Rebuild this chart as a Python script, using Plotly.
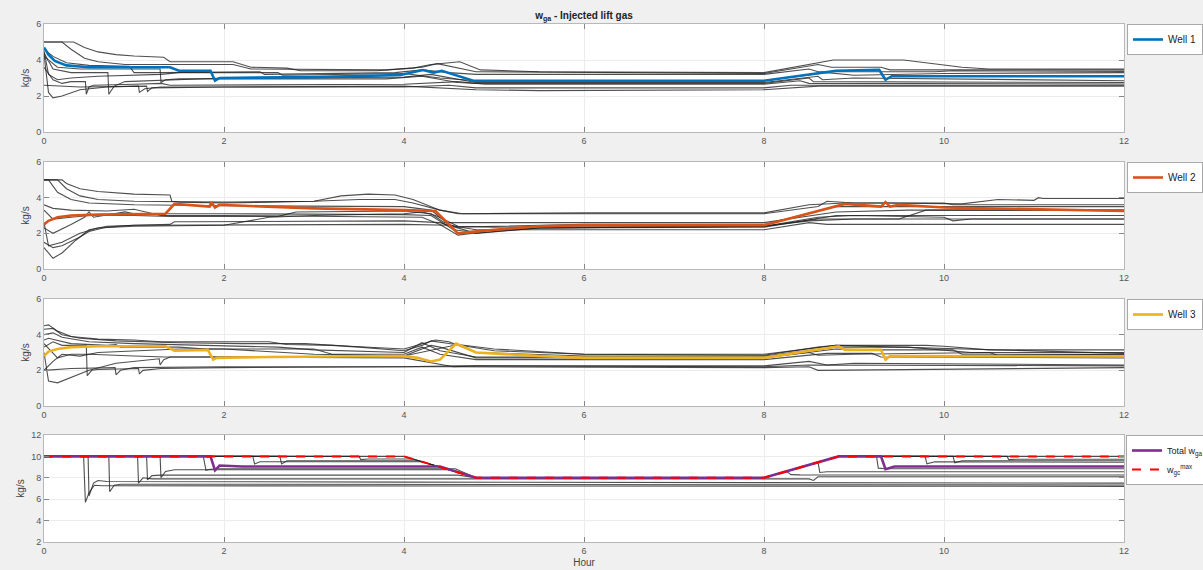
import plotly.graph_objects as go

# ---------------- data (hour, kg/s) knots ----------------
hour_ticks = [0, 2, 4, 6, 8, 10, 12]

well1_main = [(0, 4.7), (0.05, 4.3), (0.12, 3.95), (0.25, 3.7), (0.5, 3.6), (1.4, 3.6), (1.5, 3.4),
              (1.85, 3.4), (1.9, 2.85), (1.95, 3.0), (3.0, 3.05), (3.96, 3.17), (4.21, 3.44), (4.33, 3.3),
              (4.42, 3.4), (4.77, 2.85), (8.0, 2.85), (8.8, 3.4), (9.28, 3.45), (9.35, 2.9), (9.42, 3.1),
              (12, 3.1)]
well1_others = [
    [(0, 5.0), (0.33, 5.0), (0.45, 4.7), (0.6, 4.45), (0.8, 4.3), (1.0, 4.22), (1.33, 4.15), (1.4, 3.9),
     (2.1, 3.9), (2.3, 3.6), (2.7, 3.55), (2.85, 3.4), (3.7, 3.4), (4.1, 3.55), (4.3, 3.75), (4.62, 3.9),
     (4.85, 3.45), (5.5, 3.35), (8, 3.3), (8.77, 4.0), (9.55, 4.0), (10.2, 3.6), (10.5, 3.5), (12, 3.5)],
    [(0, 5.0), (0.2, 5.0), (0.3, 4.6), (0.45, 4.1), (0.6, 3.9), (0.9, 3.75), (2.1, 3.75), (2.3, 3.5),
     (3.8, 3.45), (4.2, 3.6), (4.37, 3.8), (4.8, 3.35), (8, 3.25), (8.6, 3.75), (8.75, 3.6), (9.3, 3.6),
     (9.4, 3.45), (12, 3.45)],
    [(0, 4.6), (0.1, 4.2), (0.25, 3.85), (0.5, 3.7), (0.95, 3.65), (1.0, 3.3), (1.3, 3.3), (2.4, 3.35),
     (2.45, 3.2), (3.2, 3.25), (3.9, 3.3), (4.2, 3.45), (4.5, 3.3), (4.8, 3.2), (8, 3.2), (8.5, 3.5),
     (8.6, 3.35), (9.9, 3.35), (10.1, 3.4), (12, 3.37)],
    [(0, 4.4), (0.1, 3.5), (0.3, 3.3), (0.71, 3.3), (0.72, 2.1), (0.78, 2.55), (0.9, 2.8), (1.4, 2.9),
     (2.0, 3.0), (4.0, 3.05), (4.3, 3.2), (4.8, 2.75), (8, 2.75), (8.6, 3.1), (8.65, 2.9), (9.0, 3.0),
     (12, 2.85)],
    [(0, 3.6), (0.1, 2.9), (0.2, 2.7), (0.3, 2.8), (0.46, 2.8), (0.47, 2.1), (0.5, 2.5), (0.55, 2.6),
     (1.0, 2.65), (1.3, 2.7), (1.4, 2.6), (4.0, 2.65), (4.6, 2.8), (4.9, 2.65), (8, 2.65), (8.4, 2.85),
     (8.5, 2.7), (12, 2.67)],
    [(0, 4.3), (0.05, 2.2), (0.1, 1.9), (0.2, 2.0), (0.4, 2.35), (0.7, 2.5), (1.05, 2.55), (1.06, 2.2),
     (1.12, 2.4), (1.3, 2.5), (4, 2.5), (4.5, 2.6), (4.8, 2.45), (8, 2.45), (8.3, 2.6), (12, 2.6)],
    [(0, 4.5), (0.05, 3.2), (0.15, 2.9), (0.3, 3.0), (0.6, 3.1), (1.3, 3.2), (1.5, 3.3), (2.6, 3.3),
     (2.65, 3.15), (3.5, 3.2), (4.0, 3.25), (4.4, 3.0), (4.8, 2.85), (8, 2.85), (8.7, 3.3), (9.0, 3.15),
     (10.0, 3.25), (12, 3.3)],
    [(0, 4.2), (0.15, 3.6), (0.4, 3.5), (1.29, 3.5), (1.3, 2.75), (1.35, 2.9), (1.5, 2.95), (3.8, 2.95),
     (4.2, 3.1), (4.6, 2.75), (4.8, 2.7), (8, 2.7), (8.5, 3.0), (8.55, 2.8), (12, 2.75)],
    [(0, 2.6), (0.4, 2.5), (1.14, 2.55), (1.15, 2.25), (1.2, 2.45), (2, 2.5), (4, 2.55), (4.8, 2.35),
     (5.5, 2.3), (8, 2.35), (8.6, 2.55), (12, 2.55)],
]

well2_main = [(0, 2.5), (0.05, 2.7), (0.15, 2.9), (0.3, 3.0), (0.6, 3.05), (1.35, 3.1), (1.45, 3.65),
              (1.7, 3.55), (1.84, 3.5), (1.86, 3.75), (1.9, 3.45), (1.95, 3.6), (2.5, 3.5), (3.0, 3.4),
              (4.0, 3.3), (4.35, 3.25), (4.6, 2.0), (5.0, 2.2), (5.5, 2.4), (6, 2.45), (8, 2.45),
              (8.9, 3.65), (9.3, 3.5), (9.35, 3.75), (9.4, 3.5), (9.5, 3.6), (10, 3.45), (12, 3.25)]
well2_others = [
    [(0, 5.0), (0.2, 5.0), (0.25, 4.8), (0.4, 4.5), (0.6, 4.35), (1.0, 4.2), (1.4, 4.15), (1.42, 3.8),
     (1.5, 3.75), (2.0, 3.7), (3.0, 3.8), (3.3, 4.1), (3.6, 4.2), (3.9, 4.15), (4.1, 3.9), (4.4, 3.3),
     (4.65, 3.1), (6, 3.15), (8, 3.15), (8.5, 3.6), (8.9, 3.7), (9.4, 3.7), (10.2, 3.65), (10.6, 3.9),
     (11.0, 3.85), (11.05, 4.0), (11.1, 3.95), (12, 3.95)],
    [(0, 5.0), (0.15, 5.0), (0.25, 4.5), (0.4, 4.1), (0.6, 3.9), (1.0, 3.8), (2.0, 3.75), (3.0, 3.8),
     (3.5, 3.9), (3.9, 3.9), (4.1, 3.7), (4.4, 3.3), (4.6, 3.1), (8, 3.1), (8.6, 3.5), (8.7, 3.8),
     (9.0, 3.7), (10.0, 3.7), (10.1, 3.6), (12, 3.6)],
    [(0, 5.0), (0.05, 5.0), (0.15, 4.3), (0.3, 3.9), (0.5, 3.7), (1.0, 3.6), (2.0, 3.55), (4.0, 3.5),
     (4.3, 3.3), (4.5, 2.5), (4.6, 2.35), (5.0, 2.4), (6, 2.5), (8, 2.5), (8.8, 3.5), (12, 3.5)],
    [(0, 3.6), (0.1, 3.4), (0.3, 3.3), (0.7, 3.25), (1.0, 3.35), (1.3, 3.0), (2.0, 3.0), (3.0, 2.95),
     (4.2, 2.9), (4.4, 2.5), (4.6, 1.9), (4.75, 2.0), (5.5, 2.3), (8, 2.35), (8.8, 3.0), (12, 3.0)],
    [(0, 2.3), (0.1, 2.0), (0.3, 2.5), (0.45, 2.9), (0.5, 3.2), (0.55, 2.9), (0.9, 3.2), (1.0, 3.1),
     (2.0, 3.1), (4.0, 3.05), (4.3, 3.0), (4.55, 2.2), (4.7, 2.1), (5.5, 2.3), (8, 2.4), (8.6, 2.9),
     (9.0, 3.0), (10.0, 2.9), (10.1, 2.7), (10.3, 2.8), (12, 2.8)],
    [(0, 1.5), (0.1, 1.2), (0.2, 1.3), (0.4, 1.8), (0.5, 2.1), (0.7, 2.35), (1.0, 2.45), (4.0, 2.5),
     (4.5, 2.45), (4.8, 2.2), (8, 2.2), (8.5, 2.6), (8.7, 2.5), (12, 2.5)],
    [(0, 1.2), (0.1, 0.6), (0.2, 0.9), (0.35, 1.6), (0.5, 2.2), (0.7, 2.4), (1.0, 2.45), (1.4, 2.5),
     (1.45, 2.65), (1.6, 2.65), (4, 2.7), (4.4, 2.6), (4.8, 2.0), (5.5, 2.3), (8, 2.4), (8.6, 2.8),
     (12, 2.8)],
    [(0, 2.6), (0.05, 1.3), (0.2, 1.5), (0.4, 2.0), (0.6, 2.3), (1.0, 2.4), (2.0, 2.45), (2.5, 2.9),
     (3.0, 3.0), (4.0, 3.1), (4.2, 3.2), (4.35, 3.0), (4.6, 2.4), (5.0, 2.35), (8, 2.4), (8.5, 2.7),
     (9.0, 2.8), (9.5, 2.8), (9.8, 3.3), (12, 3.3)],
    [(0, 3.3), (0.1, 2.8), (0.3, 2.9), (0.5, 3.0), (1.0, 3.0), (1.4, 2.95), (2.6, 2.95), (2.8, 3.2),
     (4.0, 3.25), (4.3, 3.1), (4.45, 2.6), (4.6, 2.6), (8, 2.6), (8.8, 3.2), (9.6, 3.3), (12, 3.3)],
]

well3_main = [(0, 2.8), (0.05, 3.05), (0.15, 3.2), (0.3, 3.3), (0.6, 3.35), (1.35, 3.35), (1.45, 3.1),
              (1.82, 3.15), (1.88, 2.6), (1.92, 2.7), (2.5, 2.75), (4.0, 2.8), (4.15, 2.7), (4.3, 2.5),
              (4.4, 2.6), (4.58, 3.5), (4.8, 3.0), (5.5, 2.8), (6, 2.7), (8, 2.7), (8.83, 3.35),
              (8.9, 3.15), (9.3, 3.15), (9.35, 2.6), (9.4, 2.8), (12, 2.78)]
well3_others = [
    [(0, 4.5), (0.05, 4.55), (0.15, 4.2), (0.3, 3.9), (0.6, 3.75), (1.0, 3.7), (1.3, 3.6), (2.5, 3.6),
     (2.7, 3.45), (3.2, 3.4), (3.5, 3.3), (4.0, 3.1), (4.2, 3.4), (4.3, 3.65), (4.5, 3.5), (5.0, 3.1),
     (6, 2.9), (8, 2.85), (8.6, 3.3), (8.8, 3.4), (9.8, 3.4), (10.0, 3.35), (10.5, 3.15), (12, 3.15)],
    [(0, 4.3), (0.1, 4.35), (0.2, 4.0), (0.4, 3.8), (0.8, 3.65), (1.5, 3.55), (2.2, 3.5), (2.9, 3.5),
     (3.4, 3.35), (4.0, 3.2), (4.35, 3.7), (4.5, 3.6), (4.8, 3.0), (6, 2.8), (8, 2.8), (8.8, 3.3),
     (9.6, 3.3), (10.3, 3.0), (12, 3.0)],
    [(0, 4.0), (0.1, 4.1), (0.2, 3.85), (0.5, 3.6), (1.0, 3.5), (1.8, 3.4), (2.6, 3.3), (3.0, 3.15),
     (4.0, 3.0), (4.2, 3.55), (4.4, 3.1), (4.8, 2.75), (8, 2.75), (8.5, 3.0), (8.6, 2.85), (9.0, 2.9),
     (10.5, 3.0), (10.6, 2.85), (12, 2.9)],
    [(0, 3.7), (0.05, 3.8), (0.3, 3.5), (0.7, 3.4), (0.8, 3.45), (0.85, 3.3), (1.5, 3.3), (1.8, 3.2),
     (3.0, 3.2), (3.2, 2.9), (4.0, 2.9), (4.2, 3.3), (4.4, 2.9), (4.8, 2.6), (8, 2.6), (8.7, 2.95),
     (9.2, 2.95), (9.3, 2.75), (12, 2.7)],
    [(0, 3.3), (0.1, 3.6), (0.2, 3.4), (0.47, 3.4), (0.48, 1.7), (0.53, 2.0), (0.6, 2.05), (1.05, 2.1),
     (1.06, 1.8), (1.1, 2.0), (1.3, 2.1), (2.0, 2.15), (4.0, 2.2), (4.5, 2.2), (8, 2.15), (8.5, 2.2),
     (8.6, 2.0), (12, 2.15)],
    [(0, 2.0), (0.3, 2.1), (0.79, 2.15), (0.8, 1.75), (0.85, 2.0), (1.0, 2.15), (2.0, 2.2), (4.0, 2.2),
     (4.6, 2.25), (8, 2.2), (8.5, 2.3), (12, 2.25)],
    [(0, 3.0), (0.05, 1.4), (0.15, 1.3), (0.3, 1.6), (0.5, 2.0), (0.8, 2.4), (1.2, 2.6), (1.28, 2.65),
     (1.29, 2.3), (1.33, 2.6), (1.4, 2.75), (2.0, 2.75), (4.0, 2.7), (4.55, 2.2), (4.8, 2.25), (8, 2.25),
     (8.5, 2.5), (8.7, 2.3), (9.0, 2.4), (12, 2.3)],
    [(0, 2.0), (0.1, 2.5), (0.2, 2.9), (0.4, 2.8), (0.6, 3.0), (1.0, 3.1), (1.5, 3.2), (2.0, 3.2),
     (3.0, 2.9), (4.0, 2.8), (4.3, 3.4), (4.4, 3.3), (4.8, 2.7), (8, 2.7), (8.8, 3.2), (9.2, 3.15),
     (10.1, 3.15), (10.2, 2.9), (12, 2.9)],
    [(0, 3.5), (0.1, 3.0), (0.15, 2.7), (0.3, 2.9), (0.5, 2.9), (1.0, 2.8), (1.35, 2.75), (3.0, 2.75),
     (4.0, 2.8), (4.6, 3.45), (5.0, 3.2), (6, 2.9), (8, 2.9), (8.8, 3.4), (9.5, 3.3), (12, 2.95)],
]

total_main = [(0, 10), (1.85, 10), (1.9, 8.7), (1.95, 9.15), (2.2, 9.05), (4.0, 9.05), (4.4, 9.05),
              (4.8, 8), (8, 8), (8.83, 10), (9.3, 10), (9.35, 8.8), (9.45, 9.05), (12, 9.05)]
total_max = [(0, 10), (4.0, 10), (4.8, 8), (8, 8), (8.83, 10), (12, 10)]
total_others = [
    [(0, 10), (0.44, 10), (0.46, 5.7), (0.5, 6.6), (0.56, 7.3), (0.65, 7.25), (12, 7.2)],
    [(0, 10), (0.49, 10), (0.5, 6.3), (0.55, 7.5), (0.6, 7.75), (0.7, 7.65), (4, 7.6), (8, 7.55), (12, 7.5)],
    [(0, 10), (0.72, 10), (0.73, 6.7), (0.78, 7.3), (0.85, 7.4), (12, 7.33)],
    [(0, 10), (1.04, 10), (1.05, 7.5), (1.1, 8.0), (1.2, 7.9), (4, 7.9), (8.5, 7.9), (8.55, 7.75),
     (8.6, 8.1), (12, 8.1)],
    [(0, 10), (1.14, 10), (1.15, 7.8), (1.2, 8.2), (1.3, 8.25), (4.6, 8.25), (4.8, 8.0), (8, 8),
     (8.25, 8.6), (8.3, 8.3), (8.4, 8.27), (12, 8.26)],
    [(0, 10), (1.29, 10), (1.3, 8.0), (1.35, 8.6), (1.45, 8.75), (4.5, 8.75), (4.8, 8), (8, 8),
     (8.6, 9.45), (8.62, 8.5), (8.7, 8.57), (12, 8.57)],
    [(0, 10), (1.77, 10), (1.8, 8.7), (1.85, 8.8), (1.95, 8.85), (4.57, 8.85), (4.8, 8), (8, 8),
     (8.83, 10), (9.25, 10), (9.27, 8.9), (9.35, 8.85), (12, 8.85)],
    [(0, 10), (2.32, 10), (2.34, 9.3), (2.4, 9.5), (4.2, 9.5), (4.8, 8), (8, 8), (8.83, 10), (9.79, 10),
     (9.81, 9.3), (9.9, 9.5), (12, 9.45)],
    [(0, 10), (2.62, 10), (2.64, 9.3), (2.7, 9.6), (4.16, 9.6), (4.8, 8), (8, 8), (8.83, 10), (10.1, 10),
     (10.12, 9.4), (10.2, 9.6), (12, 9.6)],
    [(0, 10), (3.5, 10), (3.52, 9.7), (3.6, 9.75), (4.1, 9.75), (4.8, 8), (8, 8), (8.83, 10), (10.7, 10),
     (10.72, 9.7), (10.8, 9.73), (12, 9.73)],
    [(0, 10), (4.0, 10), (4.8, 8), (8, 8), (8.83, 10), (12, 10)],
]

# ---------------- styling ----------------
GRAY = "rgba(35,35,35,0.8)"
FONT = "Liberation Sans, Arial, sans-serif"
x_dom = [44 / 1203, 1124 / 1203]
H = 570
panels_px = [(24, 132), (162, 269), (299, 406), (435, 542)]
y_doms = [[1 - b / H, 1 - t / H] for t, b in panels_px]

fig = go.Figure()


def add_line(pts, axis_idx, color, width, name=None, legend=None, dash=None):
    xs = [p[0] for p in pts]
    ys = [p[1] for p in pts]
    sfx = "" if axis_idx == 1 else str(axis_idx)
    fig.add_trace(go.Scatter(
        x=xs, y=ys, mode="lines", xaxis="x" + sfx, yaxis="y" + sfx,
        line=dict(color=color, width=width, dash=dash),
        name=name, showlegend=name is not None, legend=legend, hoverinfo="skip"))


for i, (others, main, name, col) in enumerate([
        (well1_others, well1_main, "Well 1", "#0072BD"),
        (well2_others, well2_main, "Well 2", "#D95319"),
        (well3_others, well3_main, "Well 3", "#EDB120")]):
    for pts in others:
        add_line(pts, i + 1, GRAY, 1.1)
    add_line(main, i + 1, col, 2.6, name=name, legend="legend" if i == 0 else f"legend{i + 1}")

for pts in total_others:
    add_line(pts, 4, GRAY, 1.1)
add_line(total_main, 4, "#7E2F8E", 2.6, name="Total w<sub>ga</sub>", legend="legend4")
add_line(total_max, 4, "#FF0000", 2, name="w<sub>gc</sub><sup>max</sup>", legend="legend4", dash="dash")

layout = dict(
    width=1203, height=570, margin=dict(l=0, r=0, t=0, b=0, autoexpand=False),
    paper_bgcolor="#f0f0f0", plot_bgcolor="#ffffff",
    font=dict(family=FONT, size=10, color="#444444"),
    title=dict(text="<b>w<sub>ga</sub> - Injected lift gas</b>", x=584 / 1203, xanchor="center",
               y=1 - 15 / H, yanchor="middle", font=dict(size=10, color="#222222")),
)

axis_common = dict(showline=True, linecolor="#b8b8b8", linewidth=1, mirror="ticks", ticks="inside",
                   ticklen=5, tickcolor="#888888", showgrid=True, gridcolor="#ececec", zeroline=False,
                   tickfont=dict(size=9, color="#555555"))

for i in range(4):
    sfx = "" if i == 0 else str(i + 1)
    xa = dict(axis_common, domain=x_dom, range=[0, 12], tickvals=hour_ticks, anchor="y" + sfx)
    if i == 3:
        xa["title"] = dict(text="Hour", font=dict(size=10, color="#444444"), standoff=4)
        ya_rng, ya_ticks = [2, 12], [2, 4, 6, 8, 10, 12]
    else:
        ya_rng, ya_ticks = [0, 6], [0, 2, 4, 6]
    ya = dict(axis_common, domain=y_doms[i], range=ya_rng, tickvals=ya_ticks, anchor="x" + sfx,
              title=dict(text="kg/s", font=dict(size=10, color="#444444"), standoff=4))
    layout["xaxis" + sfx] = xa
    layout["yaxis" + sfx] = ya

leg_common = dict(xanchor="left", yanchor="top", x=1127 / 1203, bgcolor="#ffffff",
                  bordercolor="#a8a8a8", borderwidth=1, font=dict(size=10, color="#222222"),
                  tracegroupgap=0, itemwidth=30)
layout["legend"] = dict(leg_common, y=1 - 24 / H)
layout["legend2"] = dict(leg_common, y=1 - 162 / H)
layout["legend3"] = dict(leg_common, y=1 - 299 / H)
layout["legend4"] = dict(leg_common, y=1 - 435 / H, x=1126 / 1203, font=dict(size=9, color="#222222"))

fig.update_layout(**layout)
fig.write_html("out.html")
